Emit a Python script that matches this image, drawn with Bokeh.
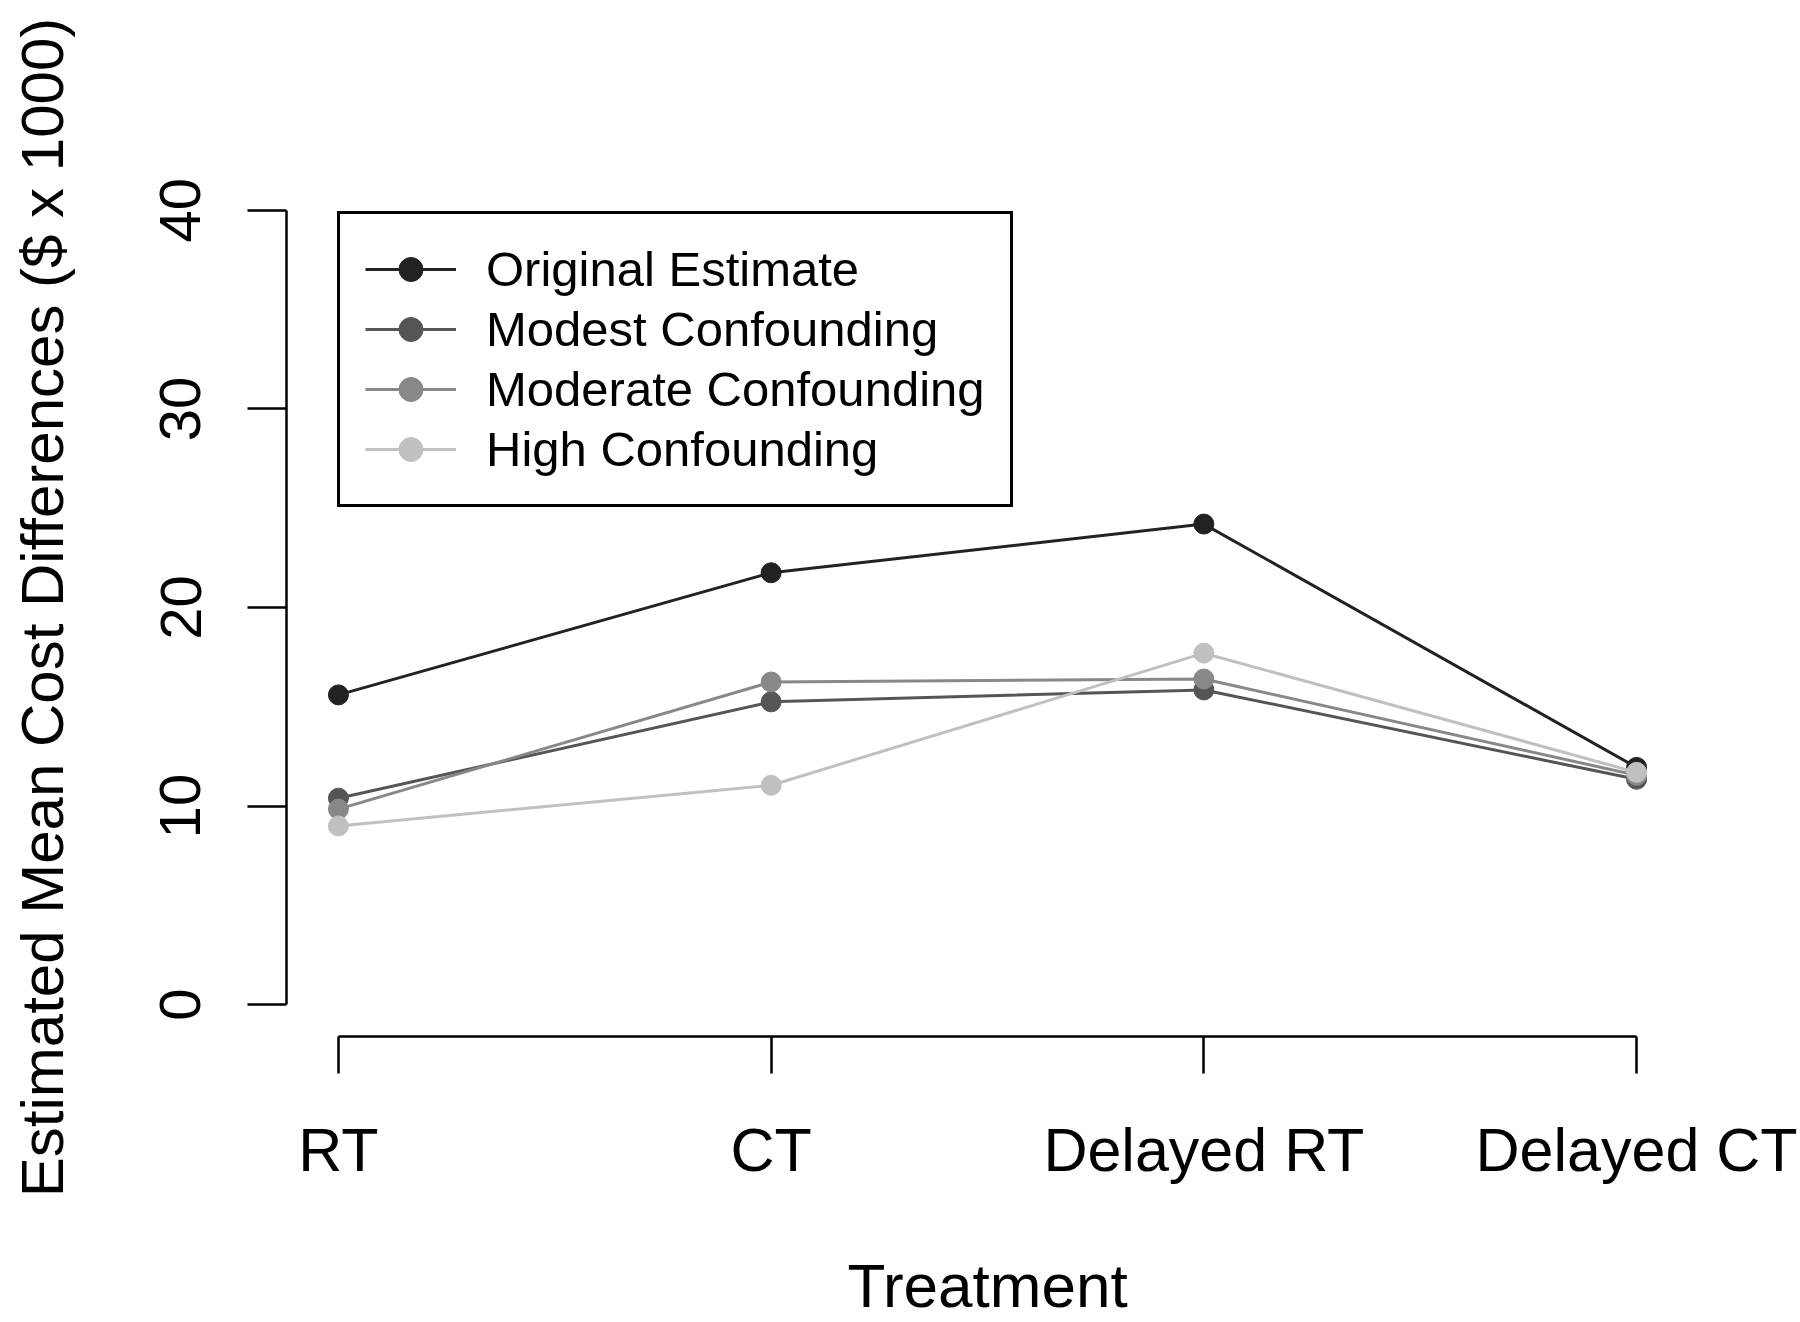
import math
from bokeh.plotting import figure
from bokeh.models import Legend, LegendItem, FixedTicker
from bokeh.embed import file_html
from bokeh.resources import INLINE

treatments = ["RT", "CT", "Delayed RT", "Delayed CT"]
x_pos = [1, 2, 3, 4]
original = [15.6, 21.75, 24.2, 11.95]
modest = [10.4, 15.25, 15.85, 11.35]
moderate = [9.85, 16.25, 16.4, 11.55]
high = [9.0, 11.05, 17.7, 11.7]
series_names = ["Original Estimate", "Modest Confounding", "Moderate Confounding", "High Confounding"]
series_colors = ["#222222", "#555555", "#888888", "#c0c0c0"]
y_ticks = [0, 10, 20, 30, 40]

FONT = "Liberation Sans"

p = figure(width=1800, height=1322, x_range=(0.88, 4.12), y_range=(-1.6, 41.6),
           output_backend="svg", toolbar_location=None,
           min_border_left=286, min_border_right=112, min_border_top=178, min_border_bottom=286)
p.outline_line_color = None
p.xgrid.grid_line_color = None
p.ygrid.grid_line_color = None
p.background_fill_color = "white"
p.border_fill_color = "white"

items = []
for name, vals, col in zip(series_names, [original, modest, moderate, high], series_colors):
    l = p.line(x_pos, vals, line_color=col, line_width=3)
    s = p.scatter(x_pos, vals, size=20, fill_color=col, line_color=col)
    items.append(LegendItem(label=name, renderers=[l, s]))

legend = Legend(items=items, location=(51, 529))
legend.border_line_color = "black"
legend.border_line_alpha = 1.0
legend.border_line_width = 3
legend.padding = 25
legend.spacing = 0
legend.label_height = 60
legend.glyph_height = 60
legend.glyph_width = 91
legend.label_standoff = 30
legend.label_text_font = FONT
legend.label_text_font_size = "49px"
legend.label_text_color = "black"
legend.margin = 0
p.add_layout(legend, "center")

# x axis
xa = p.xaxis[0]
xa.ticker = FixedTicker(ticks=x_pos)
xa.major_label_overrides = {i: t for i, t in zip(x_pos, treatments)}
xa.bounds = (1, 4)
xa.axis_label = "Treatment"
xa.axis_label_text_font_style = "normal"
xa.minor_tick_line_color = None
xa.major_tick_out = 37
xa.major_tick_in = 0
xa.major_label_standoff = 42
xa.axis_label_standoff = 64
xa.major_label_text_font_size = "61px"
xa.axis_label_text_font_size = "62px"

# y axis
ya = p.yaxis[0]
ya.ticker = FixedTicker(ticks=y_ticks)
ya.bounds = (0, 40)
ya.axis_label = "Estimated Mean Cost Differences ($ x 1000)"
ya.axis_label_text_font_style = "normal"
ya.minor_tick_line_color = None
ya.major_tick_out = 39
ya.major_tick_in = 0
ya.major_label_orientation = "parallel"
ya.major_label_standoff = 47
ya.axis_label_standoff = 82
ya.major_label_text_font_size = "58px"
ya.axis_label_text_font_size = "60px"

for ax in (xa, ya):
    ax.axis_line_width = 2.5
    ax.axis_line_color = "black"
    ax.major_tick_line_width = 2.5
    ax.major_tick_line_color = "black"
    ax.major_label_text_font = FONT
    ax.major_label_text_color = "black"
    ax.axis_label_text_font = FONT
    ax.axis_label_text_color = "black"

open("out.html", "w").write(file_html(p, INLINE))
